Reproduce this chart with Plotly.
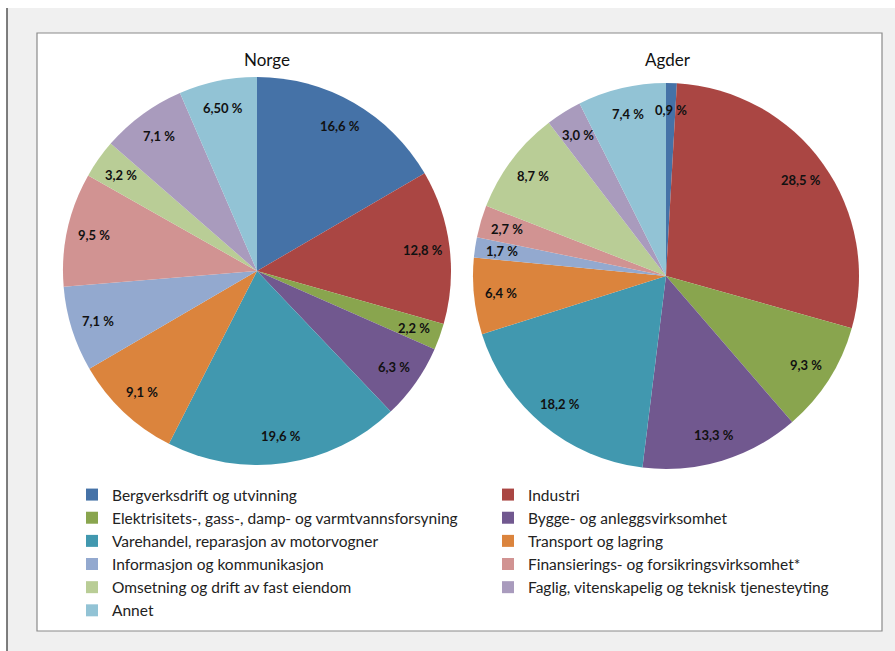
import math
import plotly.graph_objects as go

W, H = 895, 651

categories = [
    "Bergverksdrift og utvinning",
    "Industri",
    "Elektrisitets-, gass-, damp- og varmtvannsforsyning",
    "Bygge- og anleggsvirksomhet",
    "Varehandel, reparasjon av motorvogner",
    "Transport og lagring",
    "Informasjon og kommunikasjon",
    "Finansierings- og forsikringsvirksomhet*",
    "Omsetning og drift av fast eiendom",
    "Faglig, vitenskapelig og teknisk tjenesteyting",
    "Annet",
]
norge_values = [16.6, 12.8, 2.2, 6.3, 19.6, 9.1, 7.1, 9.5, 3.2, 7.1, 6.5]
agder_values = [0.9, 28.5, 9.3, 13.3, 18.2, 6.4, 1.7, 2.7, 8.7, 3.0, 7.4]
norge_labels = ["16,6 %", "12,8 %", "2,2 %", "6,3 %", "19,6 %", "9,1 %",
                "7,1 %", "9,5 %", "3,2 %", "7,1 %", "6,50 %"]
agder_labels = ["0,9 %", "28,5 %", "9,3 %", "13,3 %", "18,2 %", "6,4 %",
                "1,7 %", "2,7 %", "8,7 %", "3,0 %", "7,4 %"]
colors = ["#4572A7", "#AA4643", "#89A54E", "#71588F", "#4198AF", "#DB843D",
          "#93A9CF", "#D19392", "#B9CD96", "#A99BBD", "#92C3D5"]

def px(x0, x1):
    return [x0 / W, x1 / W]

def py(top, bottom):
    return [1 - bottom / H, 1 - top / H]

# pie placement (pixels): left, right, top, bottom of the square domain
pies = [
    ("Norge", norge_values, norge_labels, (63, 451, 77, 465), 267),
    ("Agder", agder_values, agder_labels, (473, 859, 83, 469), 668),
]

label_font = dict(family="Lato, 'Open Sans', sans-serif", size=13, color="#111111", weight="bold")
title_font = dict(family="Lato, 'Open Sans', sans-serif", size=17, color="#111111")

fig = go.Figure()
annotations = []
for name, vals, labs, (l, r, t, b), title_x in pies:
    fig.add_trace(go.Pie(
        labels=categories, values=vals, textinfo="none",
        sort=False, direction="clockwise", rotation=0,
        marker=dict(colors=colors, line=dict(width=0)),
        domain=dict(x=px(l, r), y=py(t, b)),
        hovertext=labs, hoverinfo="label+text", name=name,
    ))
    # data labels placed along each slice's bisector, like the original's best-fit labels
    cx, cy, rad = (l + r) / 2, (t + b) / 2, min(r - l, b - t) / 2
    total = sum(vals)
    cum = 0.0
    for v, lab in zip(vals, labs):
        mid = (cum + v / 2) / total * 2 * math.pi
        cum += v
        lx = cx + 0.86 * rad * math.sin(mid)
        ly = cy - 0.86 * rad * math.cos(mid)
        annotations.append(dict(text=lab, x=lx / W, y=1 - ly / H, xref="paper", yref="paper",
                                showarrow=False, font=label_font,
                                xanchor="center", yanchor="middle"))
    annotations.append(dict(text=name, x=title_x / W, y=1 - 59 / H, xref="paper", yref="paper",
                            showarrow=False, font=title_font, xanchor="center", yanchor="middle"))

shapes = [
    dict(type="rect", xref="paper", yref="paper", x0=0, x1=1, y0=py(0, 8)[0], y1=1,
         fillcolor="white", line=dict(width=0), layer="below"),
    dict(type="rect", xref="paper", yref="paper", x0=0, x1=7 / W, y0=0, y1=1,
         fillcolor="white", line=dict(width=0), layer="below"),
    dict(type="line", xref="paper", yref="paper", x0=7 / W, x1=7 / W, y0=0, y1=py(0, 8)[0],
         line=dict(color="#555555", width=1.5), layer="below"),
    dict(type="rect", xref="paper", yref="paper", x0=37 / W, x1=882 / W,
         y0=py(33, 631)[0], y1=py(33, 631)[1],
         fillcolor="white", line=dict(color="#8a8a8a", width=1.2), layer="below"),
]

fig.update_layout(
    width=W, height=H,
    margin=dict(l=0, r=0, t=0, b=0, autoexpand=False),
    paper_bgcolor="#f0f0f0",
    plot_bgcolor="white",
    shapes=shapes,
    annotations=annotations,
    showlegend=True,
    legend=dict(
        orientation="h", x=72 / W, y=1 - 478 / H, xanchor="left", yanchor="top",
        entrywidth=371, entrywidthmode="pixels",
        font=dict(family="Lato, 'Open Sans', sans-serif", size=15.5, color="#222222"),
        bgcolor="rgba(0,0,0,0)", traceorder="normal", itemclick=False,
    ),
)

fig.write_html("out.html", config={"displayModeBar": False},
               post_script="document.body.style.margin='0px';")
